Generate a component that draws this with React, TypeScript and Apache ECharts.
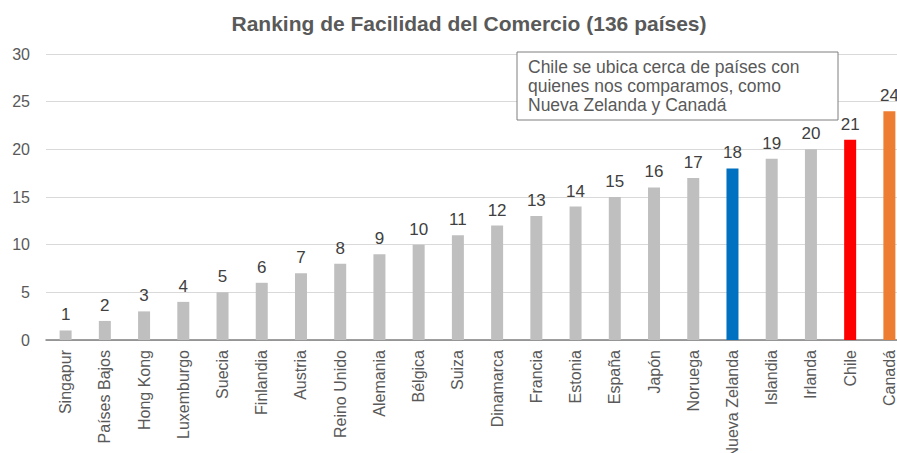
import React, { useEffect, useRef } from "react";
import * as echarts from "echarts";

const categories = ["Singapur", "Países Bajos", "Hong Kong", "Luxemburgo", "Suecia", "Finlandia", "Austria", "Reino Unido", "Alemania", "Bélgica", "Suiza", "Dinamarca", "Francia", "Estonia", "España", "Japón", "Noruega", "Nueva Zelanda", "Islandia", "Irlanda", "Chile", "Canadá"];
const values = [1, 2, 3, 4, 5, 6, 7, 8, 9, 10, 11, 12, 13, 14, 15, 16, 17, 18, 19, 20, 21, 24];
const highlight: Record<string, string> = { "Nueva Zelanda": "#0070c0", "Chile": "#ff0000", "Canadá": "#ed7d31" };
const titleText = "Ranking de Facilidad del Comercio (136 países)";
const noteLines = ["Chile se ubica cerca de países con", "quienes nos comparamos, como", "Nueva Zelanda y Canadá"];

export default function App() {
  const ref = useRef<HTMLDivElement>(null);
  useEffect(() => {
    if (!ref.current) return;
    const chart = echarts.init(ref.current, null, { renderer: "svg" });
    const font = "'Liberation Sans', Arial, sans-serif";
    chart.setOption({
      animation: false,
      textStyle: { fontFamily: font },
      title: {
        text: titleText,
        left: 464,
        textAlign: "center",
        top: 8,
        textStyle: { fontSize: 21, fontWeight: "bold", color: "#595959", fontFamily: font },
      },
      grid: { left: 46, top: 54, width: 863, height: 286, containLabel: false, outerBoundsMode: "none" },
      xAxis: {
        type: "category",
        data: categories,
        axisLine: { lineStyle: { color: "#7f7f7f", width: 1.5 } },
        axisTick: { show: false },
        axisLabel: { rotate: 90, fontSize: 16, color: "#595959", margin: 10, interval: 0, fontFamily: font },
      },
      yAxis: {
        type: "value",
        min: 0,
        max: 30,
        interval: 5,
        axisLine: { show: false },
        axisTick: { show: false },
        splitLine: { lineStyle: { color: "#d9d9d9" } },
        axisLabel: { fontSize: 16, color: "#595959", margin: 16, fontFamily: font },
      },
      series: [
        {
          type: "bar",
          barWidth: 12,
          data: values.map((v, i) => ({
            value: v,
            itemStyle: { color: highlight[categories[i]] || "#bfbfbf" },
          })),
          label: { show: true, position: "top", distance: 7, fontSize: 17, color: "#404040", fontFamily: font },
        },
      ],
      graphic: [
        {
          type: "rect",
          shape: { x: 517, y: 52, width: 321, height: 68 },
          style: { fill: "#ffffff", stroke: "#7f7f7f", lineWidth: 1 },
          z: 10,
        },
        {
          type: "text",
          x: 528,
          y: 57,
          z: 11,
          style: {
            text: noteLines.join("\n"),
            fontSize: 17.5,
            lineHeight: 19,
            fill: "#595959",
            fontFamily: font,
          },
        },
      ],
    });
    return () => chart.dispose();
  }, []);
  return (
    <div style={{ width: 897, height: 453, position: "absolute", left: 0, top: 0, overflow: "hidden" }}>
      <div ref={ref} style={{ width: 930, height: 453 }} />
    </div>
  );
}
